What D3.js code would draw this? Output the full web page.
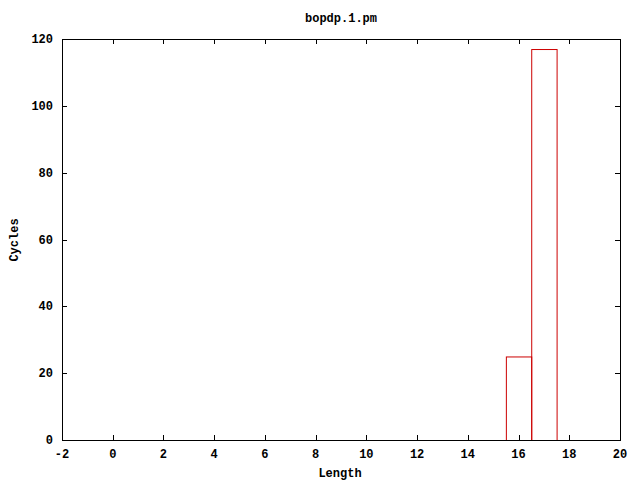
<!DOCTYPE html>
<html><head><meta charset="utf-8">
<script src="https://cdn.jsdelivr.net/npm/d3@7"></script>
<style>body{margin:0;background:#fff}svg{display:block}text{font-family:"Liberation Mono","DejaVu Sans Mono",monospace;font-weight:bold;font-size:12px;fill:#000}</style>
</head><body>
<script>
const title = "bopdp.1.pm";
const xLabel = "Length";
const yLabel = "Cycles";
const lengths = [16, 17];
const cycles = [25, 117];
const xTicks = [-2,0,2,4,6,8,10,12,14,16,18,20];
const yTicks = [0,20,40,60,80,100,120];

const W=640,H=480, L=62, R=620, T=39, B=440;
const svg = d3.select("body").append("svg").attr("width",W).attr("height",H);
const x = d3.scaleLinear().domain([-2,20]).range([L,R]);
const y = d3.scaleLinear().domain([0,120]).range([B,T]);

// bars
svg.selectAll("rect.bar").data(lengths).enter().append("rect")
  .attr("x",d=>x(d-0.5)+0.5).attr("y",(d,i)=>y(cycles[i])+0.5)
  .attr("width",d=>x(d+0.5)-x(d-0.5)).attr("height",(d,i)=>y(0)-y(cycles[i]))
  .attr("fill","none").attr("stroke","#cc0000").attr("stroke-width",1);

// axes with inward ticks (mirrored)
const tl=5;
const g=svg.append("g").attr("stroke","#000").attr("stroke-width",1).attr("shape-rendering","crispEdges");
xTicks.forEach(t=>{
  const px=Math.round(x(t))+0.5;
  g.append("line").attr("x1",px).attr("x2",px).attr("y1",B).attr("y2",B-tl);
  g.append("line").attr("x1",px).attr("x2",px).attr("y1",T).attr("y2",T+tl);
});
yTicks.forEach(t=>{
  const py=Math.round(y(t))+0.5;
  g.append("line").attr("x1",L).attr("x2",L+tl).attr("y1",py).attr("y2",py);
  g.append("line").attr("x1",R).attr("x2",R-tl).attr("y1",py).attr("y2",py);
});
g.append("rect").attr("x",L+0.5).attr("y",T+0.5).attr("width",R-L).attr("height",B-T).attr("fill","none");

svg.selectAll("text.xt").data(xTicks).enter().append("text")
  .attr("x",d=>x(d)).attr("y",458).attr("text-anchor","middle").text(d=>d);
svg.selectAll("text.yt").data(yTicks).enter().append("text")
  .attr("x",53).attr("y",d=>y(d)+4).attr("text-anchor","end").text(d=>d);

svg.append("text").attr("x",341).attr("y",22).attr("text-anchor","middle").text(title);
svg.append("text").attr("x",340).attr("y",477).attr("text-anchor","middle").text(xLabel);
svg.append("text").attr("transform","translate(18,240) rotate(-90)").attr("text-anchor","middle").text(yLabel);
</script>
</body></html>
